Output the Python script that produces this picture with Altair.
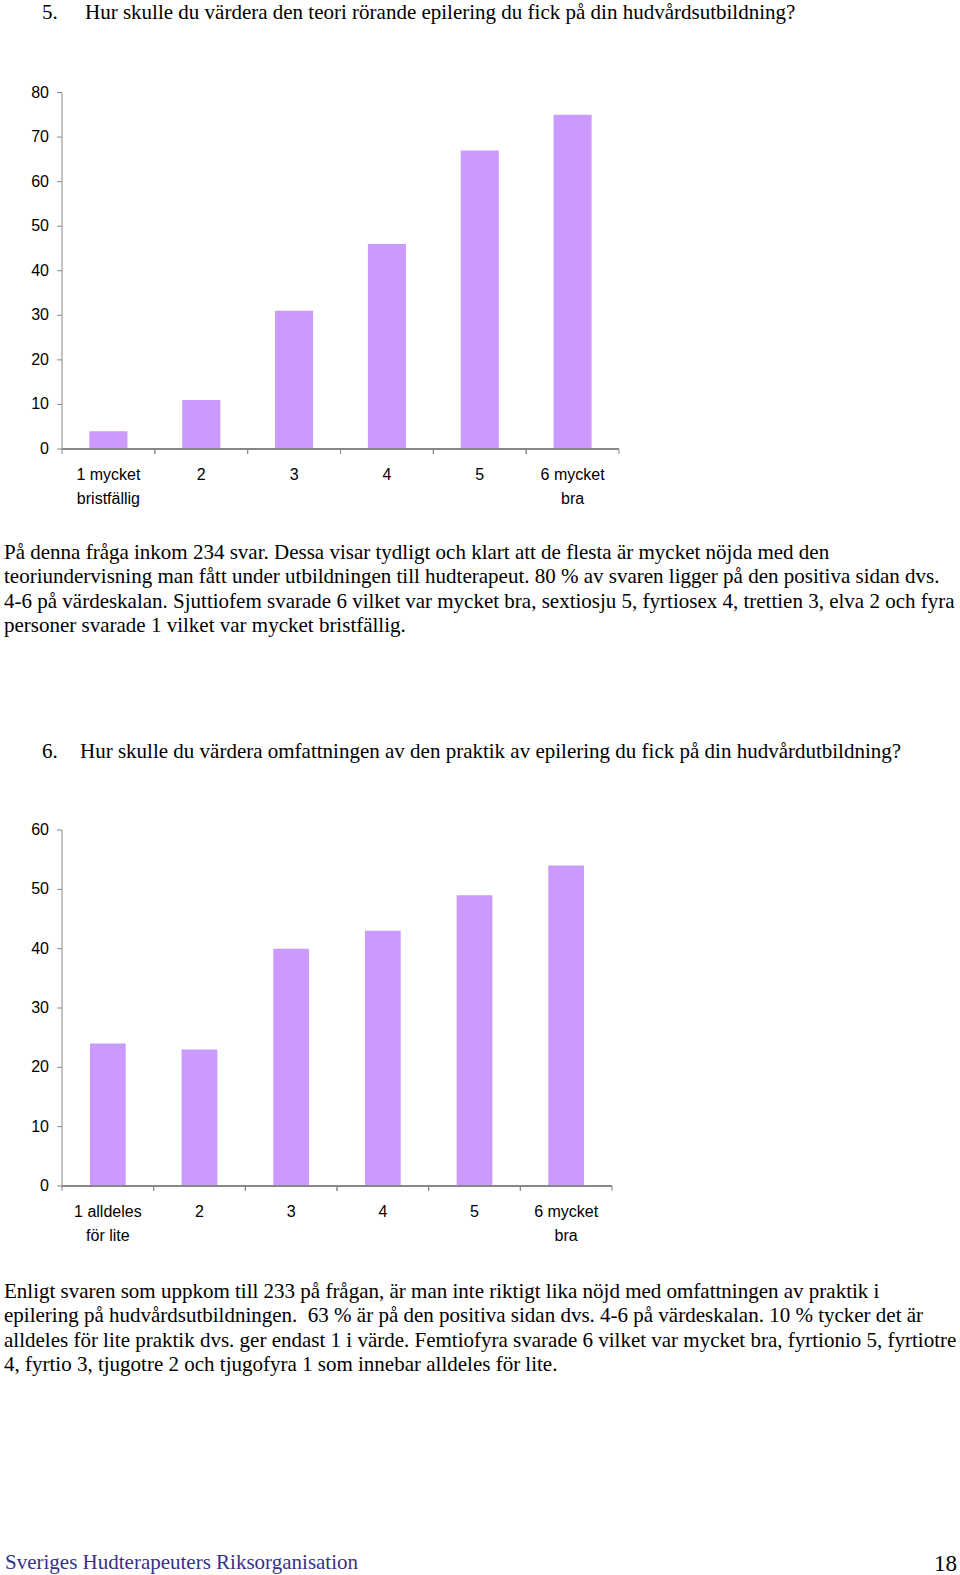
import altair as alt
import pandas as pd

# ---------------- data ----------------
cats1 = ["1 mycket\nbristfällig", "2", "3", "4", "5", "6 mycket\nbra"]
vals1 = [4, 11, 31, 46, 67, 75]
ticks1 = [0, 10, 20, 30, 40, 50, 60, 70, 80]

cats2 = ["1 alldeles\nför lite", "2", "3", "4", "5", "6 mycket\nbra"]
vals2 = [24, 23, 40, 43, 49, 54]
ticks2 = [0, 10, 20, 30, 40, 50, 60]

title1_num = "5."
title1 = "Hur skulle du värdera den teori rörande epilering du fick på din hudvårdsutbildning?"
para1 = [
    "På denna fråga inkom 234 svar. Dessa visar tydligt och klart att de flesta är mycket nöjda med den",
    "teoriundervisning man fått under utbildningen till hudterapeut. 80 % av svaren ligger på den positiva sidan dvs.",
    "4-6 på värdeskalan. Sjuttiofem svarade 6 vilket var mycket bra, sextiosju 5, fyrtiosex 4, trettien 3, elva 2 och fyra",
    "personer svarade 1 vilket var mycket bristfällig.",
]
title2_num = "6."
title2 = "Hur skulle du värdera omfattningen av den praktik av epilering du fick på din hudvårdutbildning?"
para2 = [
    "Enligt svaren som uppkom till 233 på frågan, är man inte riktigt lika nöjd med omfattningen av praktik i",
    "epilering på hudvårdsutbildningen.\u00a0 63 % är på den positiva sidan dvs. 4-6 på värdeskalan. 10 % tycker det är",
    "alldeles för lite praktik dvs. ger endast 1 i värde. Femtiofyra svarade 6 vilket var mycket bra, fyrtionio 5, fyrtiotre",
    "4, fyrtio 3, tjugotre 2 och tjugofyra 1 som innebar alldeles för lite.",
]
footer = "Sveriges Hudterapeuters Riksorganisation"
page_no = "18"

# ---------------- style ----------------
BAR = "#CC99FF"
AX = "#868686"
SANS = "Liberation Sans"
SERIF = "Liberation Serif"
TXT = 21
LH = 24.3


def bar_panel(cats, vals, ticks, x_range, y_range, band):
    xs = alt.Scale(domain=cats, range=x_range, paddingInner=0, paddingOuter=0)
    ys = alt.Scale(domain=[ticks[0], ticks[-1]], range=y_range, nice=False)
    df = pd.DataFrame({"cat": cats, "v": vals})
    tdf = pd.DataFrame({"t": ticks})
    x0, x1 = x_range
    ybase = y_range[0]

    bars = alt.Chart(df).mark_bar(color=BAR, width=alt.RelativeBandSize(band)).encode(
        x=alt.X("cat:N", scale=xs, axis=None),
        y=alt.Y("v:Q", scale=ys, axis=None),
    )
    y_dom = alt.Chart(tdf).mark_rule(color=AX, strokeWidth=1).encode(
        x=alt.value(x0),
        y=alt.Y("min(t):Q", scale=ys, axis=None),
        y2=alt.Y2("max(t):Q"),
    )
    x_dom = alt.Chart(df).mark_rule(color=AX, strokeWidth=1).encode(
        x=alt.value(x0), x2=alt.value(x1), y=alt.value(ybase)
    )
    y_ticks = alt.Chart(tdf).mark_rule(color=AX, strokeWidth=1).encode(
        y=alt.Y("t:Q", scale=ys, axis=None),
        x=alt.value(x0 - 5),
        x2=alt.value(x0),
    )
    y_labels = alt.Chart(tdf).mark_text(
        align="right", baseline="middle", font=SANS, fontSize=16, color="black"
    ).encode(
        y=alt.Y("t:Q", scale=ys, axis=None),
        x=alt.value(x0 - 13),
        text="t:Q",
    )
    x_ticks_a = alt.Chart(df).mark_rule(color=AX, strokeWidth=1).encode(
        x=alt.X("cat:N", scale=xs, axis=None, bandPosition=1),
        y=alt.value(ybase),
        y2=alt.value(ybase + 5),
    )
    x_ticks_b = alt.Chart(df).mark_rule(color=AX, strokeWidth=1).encode(
        x=alt.X("cat:N", scale=xs, axis=None, bandPosition=0),
        y=alt.value(ybase),
        y2=alt.value(ybase + 5),
    )
    x_labels = alt.Chart(df).mark_text(
        align="center", baseline="alphabetic", lineBreak="\n", lineHeight=24,
        font=SANS, fontSize=16, color="black",
    ).encode(
        x=alt.X("cat:N", scale=xs, axis=None),
        y=alt.value(ybase + 31),
        text="cat:N",
    )
    return alt.layer(bars, y_dom, x_dom, y_ticks, y_labels, x_ticks_a, x_ticks_b, x_labels)


def text_block(lines, x, y, size=TXT, color="black", align="left", font=SERIF):
    df = pd.DataFrame({"t": ["\n".join(lines)]})
    return alt.Chart(df).mark_text(
        align=align, baseline="alphabetic", lineBreak="\n", lineHeight=LH,
        font=font, fontSize=size, color=color,
    ).encode(x=alt.value(x), y=alt.value(y), text="t:N")


panel1 = bar_panel(cats1, vals1, ticks1, [62, 619], [449, 92.5], 0.41)
panel2 = bar_panel(cats2, vals2, ticks2, [62, 612], [1186, 830], 0.39)

layers = [
    panel1,
    panel2,
    text_block([title1_num], 42, 18.5),
    text_block([title1], 85, 18.5),
    text_block(para1, 4, 559),
    text_block([title2_num], 42, 758),
    text_block([title2], 80, 758),
    text_block(para2, 4, 1298),
    text_block([footer], 5, 1569, color="#333388"),
    text_block([page_no], 957, 1571, size=23, align="right"),
]

chart = (
    alt.layer(*layers)
    .resolve_scale(x="independent", y="independent")
    .properties(
        width=960,
        height=1575,
        padding=0,
        autosize=alt.AutoSizeParams(type="none"),
        background="white",
    )
    .configure_view(stroke=None)
)

chart.save("out.html", embed_options={"renderer": "svg", "actions": False})
